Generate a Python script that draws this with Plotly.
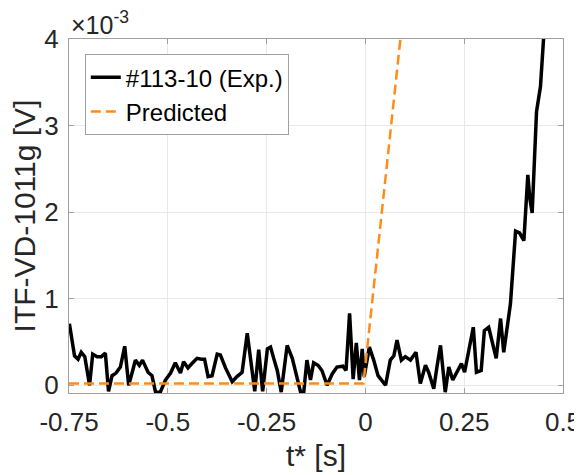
import plotly.graph_objects as go

# Experimental trace (#113-10), time t* [s] and voltage in units of 1e-3 V
t_exp = [-0.749, -0.736, -0.727, -0.719, -0.710, -0.698, -0.690, -0.679, -0.668, -0.658,
         -0.650, -0.641, -0.631, -0.620, -0.609, -0.599, -0.590, -0.582, -0.572, -0.564,
         -0.550, -0.540, -0.531, -0.519, -0.506, -0.493, -0.481, -0.468, -0.460, -0.449,
         -0.439, -0.426, -0.415, -0.407, -0.398, -0.388, -0.375, -0.367, -0.354, -0.337,
         -0.325, -0.312, -0.299, -0.291, -0.280, -0.270, -0.260, -0.248, -0.240, -0.232,
         -0.223, -0.213, -0.198, -0.185, -0.175, -0.164, -0.156, -0.148, -0.139, -0.131,
         -0.120, -0.110, -0.097, -0.084, -0.072, -0.057, -0.049, -0.040, -0.031, -0.023,
         -0.015, -0.008, -0.003, 0.010, 0.021, 0.032, 0.051, 0.063, 0.072, 0.080,
         0.091, 0.101, 0.114, 0.128, 0.139, 0.152, 0.160, 0.173, 0.181, 0.190,
         0.202, 0.211, 0.221, 0.232, 0.243, 0.251, 0.261, 0.273, 0.281, 0.293,
         0.301, 0.312, 0.331, 0.342, 0.350, 0.367, 0.380, 0.390, 0.401, 0.411,
         0.416, 0.422, 0.433, 0.443, 0.455]
v_exp = [0.71, 0.34, 0.30, 0.38, 0.33, 0.00, 0.36, 0.33, 0.33, 0.37,
         -0.07, 0.11, 0.14, 0.21, 0.45, 0.00, 0.15, 0.29, 0.23, 0.29,
         0.15, 0.11, -0.08, -0.08, 0.06, 0.14, 0.26, 0.14, 0.27, 0.20,
         0.25, 0.31, 0.30, 0.30, 0.10, 0.11, 0.36, 0.35, 0.20, 0.04,
         0.10, 0.15, 0.60, 0.30, -0.07, 0.41, -0.07, 0.42, 0.44, 0.31,
         0.17, -0.08, 0.46, 0.31, 0.11, -0.08, -0.08, 0.29, 0.06, 0.26,
         0.23, 0.17, 0.00, 0.13, 0.21, 0.22, 0.17, 0.83, 0.07, 0.49,
         0.06, 0.42, 0.10, 0.44, 0.29, 0.11, 0.00, 0.29, 0.34, 0.52,
         0.29, 0.33, 0.29, 0.38, 0.02, 0.23, 0.15, -0.04, 0.21, 0.46,
         -0.08, 0.21, 0.06, 0.15, 0.25, 0.15, 0.38, 0.67, 0.15, 0.17,
         0.63, 0.67, 0.31, 0.77, 0.38, 0.94, 1.78, 1.76, 1.67, 2.43,
         2.16, 1.99, 3.16, 3.45, 4.30]

# Predicted trace
t_pred = [-0.75, -0.005, 0.0886]
v_pred = [0.02, 0.02, 4.0]

x_ticks = [-0.75, -0.5, -0.25, 0, 0.25, 0.5]
x_ticktext = ["-0.75", "-0.5", "-0.25", "0", "0.25", "0.5"]
y_ticks = [0, 1, 2, 3, 4]
y_ticktext = ["0", "1", "2", "3", "4"]

FONT = "Liberation Sans, Arial, Helvetica, sans-serif"
TXT = "#262626"

fig = go.Figure()
fig.add_trace(go.Scatter(x=t_exp, y=v_exp, mode="lines", name="#113-10 (Exp.)",
                         line=dict(color="black", width=3.5)))
fig.add_trace(go.Scatter(x=t_pred, y=v_pred, mode="lines", name="Predicted",
                         line=dict(color="#ff8c1a", width=2.5, dash="10px,5px")))

axis_common = dict(showline=True, linecolor="#a0a0a0", linewidth=1, mirror="ticks",
                   ticks="inside", ticklen=5, tickcolor="#a0a0a0",
                   showgrid=True, gridcolor="#e8e8e8", gridwidth=1, zeroline=False,
                   automargin=False,
                   tickfont=dict(family=FONT, size=26, color=TXT))

# page body has an 8px default margin, so the figure is sized to fit the 582x475 window
fig.update_layout(
    width=574, height=467,
    margin=dict(l=61, r=19, t=31, b=82),
    paper_bgcolor="white", plot_bgcolor="white",
    font=dict(family=FONT, color=TXT),
    xaxis=dict(range=[-0.75, 0.5], tickvals=x_ticks, ticktext=x_ticktext,
               ticklabelstandoff=6,
               title=dict(text="t* [s]", font=dict(family=FONT, size=30, color=TXT), standoff=8),
               **axis_common),
    yaxis=dict(range=[-0.09, 4.0], tickvals=y_ticks, ticktext=y_ticktext,
               ticklabelstandoff=4,
               title=dict(text="ITF-VD-1011g [V]", font=dict(family=FONT, size=30, color=TXT), standoff=2),
               **axis_common),
    legend=dict(x=0.032, y=0.957, xanchor="left", yanchor="top",
                bgcolor="white", bordercolor="#a0a0a0", borderwidth=1,
                font=dict(family=FONT, size=24, color="black"),
                tracegroupgap=0, itemwidth=30),
    showlegend=True,
    annotations=[dict(text="×10<sup>-3</sup>", xref="paper", yref="paper",
                      x=0.0, y=1.0, xanchor="left", yanchor="bottom", yshift=-2,
                      showarrow=False, font=dict(family=FONT, size=25, color=TXT))],
)

fig.write_html("out.html")
